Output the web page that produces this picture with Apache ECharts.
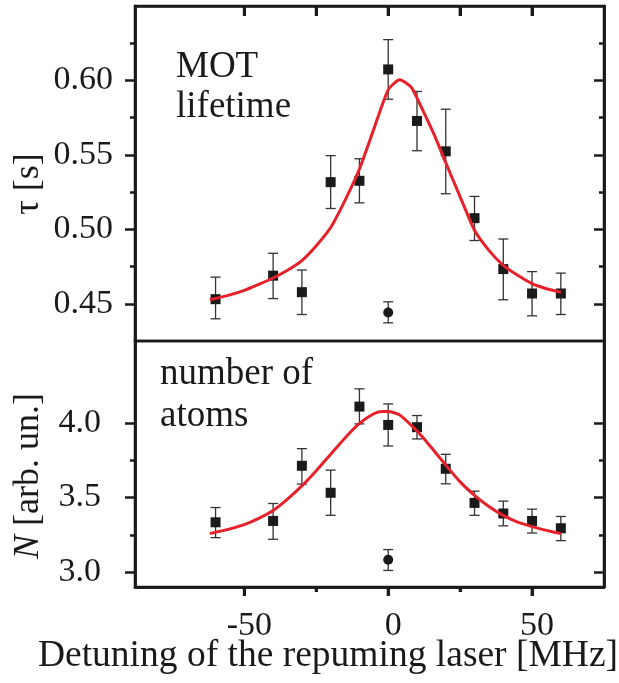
<!DOCTYPE html>
<html>
<head>
<meta charset="utf-8">
<script src="https://cdn.jsdelivr.net/npm/echarts@6/dist/echarts.min.js"></script>
<style>
html,body{margin:0;padding:0;background:#fff;}
#chart{width:619px;height:683px;}
</style>
</head>
<body>
<div id="chart"></div>
<script>
// ---- data ----
const detuning = [-60, -40, -30, -20, -10, 0, 10, 20, 30, 40, 50, 60];

const tau      = [0.4531, 0.4689, 0.4578, 0.5317, 0.5326, 0.6074, 0.5728, 0.5524, 0.5075, 0.4733, 0.4569, 0.4569];
const tauLow   = [0.4399, 0.4535, 0.4428, 0.5140, 0.5178, 0.5874, 0.5528, 0.5239, 0.4925, 0.4527, 0.4419, 0.4428];
const tauHigh  = [0.4679, 0.4839, 0.4727, 0.5495, 0.5474, 0.6274, 0.5926, 0.5807, 0.5221, 0.4935, 0.4716, 0.4706];

const tauRefX = [0];
const tauRef = [0.4441];
const tauRefLow = [0.4372];
const tauRefHigh = [0.4513];

const tauFitX = [-62, -55, -50, -45, -40, -35, -30, -25, -20, -15, -10, -5, 0, 4, 8, 12, 16, 20, 25, 30, 35, 40, 45, 50, 55, 60];
const tauFit  = [0.4527, 0.4560, 0.4590, 0.4630, 0.4673, 0.4725, 0.4790, 0.4890, 0.5012, 0.5195, 0.5405, 0.5673, 0.5937, 0.6005, 0.5955, 0.5800, 0.5634, 0.5448, 0.5218, 0.4994, 0.4859, 0.4758, 0.4691, 0.4635, 0.4601, 0.4578];

const atoms     = [3.334, 3.343, 3.713, 3.532, 4.110, 3.987, 3.972, 3.693, 3.464, 3.393, 3.343, 3.294];
const atomsLow  = [3.231, 3.220, 3.590, 3.381, 3.994, 3.846, 3.893, 3.592, 3.381, 3.310, 3.262, 3.211];
const atomsHigh = [3.433, 3.460, 3.828, 3.684, 4.229, 4.128, 4.050, 3.790, 3.543, 3.476, 3.422, 3.373];

const atomsRefX = [0];
const atomsRef = [3.083];
const atomsRefLow = [3.011];
const atomsRefHigh = [3.151];

const atomsFitX = [-62, -55, -50, -45, -40, -35, -30, -25, -20, -15, -10, -5, -2, 0, 4, 8, 12, 16, 20, 25, 30, 35, 40, 45, 50, 55, 60];
const atomsFit  = [3.258, 3.290, 3.318, 3.360, 3.413, 3.490, 3.578, 3.680, 3.790, 3.900, 3.997, 4.062, 4.077, 4.077, 4.054, 3.985, 3.905, 3.812, 3.718, 3.605, 3.515, 3.440, 3.380, 3.335, 3.305, 3.280, 3.258];

const xMajorTicks = [-50, 0, 50];
const xMinorTicks = [-25, 25];
const xTopTicks = [-50, -25, 0, 25, 50];
const tauMajorTicks = [0.45, 0.50, 0.55, 0.60];
const tauMinorTicks = [0.475, 0.525, 0.575, 0.625];
const atomsMajorTicks = [3.0, 3.5, 4.0];
const atomsMinorTicks = [3.25, 3.75];

const xRange = [-88, 75];
const tauRange = [0.425, 0.65];
const atomsRange = [2.9, 4.55];

// ---- helpers ----
const FONT = '"Liberation Serif", "Times New Roman", serif';
const INK = '#1a1a1a';
const pairs = (xs, ys) => xs.map((x, i) => [x, ys[i]]);
const triples = (xs, lo, hi) => xs.map((x, i) => [x, lo[i], hi[i]]);

function errRender(params, api) {
  const x = api.value(0), lo = api.value(1), hi = api.value(2);
  const a = api.coord([x, hi]);
  const b = api.coord([x, lo]);
  const w = 5;
  const st = { stroke: '#333', lineWidth: 1.3 };
  return {
    type: 'group',
    children: [
      { type: 'line', shape: { x1: a[0], y1: a[1], x2: b[0], y2: b[1] }, style: st },
      { type: 'line', shape: { x1: a[0] - w, y1: a[1], x2: a[0] + w, y2: a[1] }, style: st },
      { type: 'line', shape: { x1: b[0] - w, y1: b[1], x2: b[0] + w, y2: b[1] }, style: st }
    ]
  };
}

// x-axis tick marks drawn through the axis scale (value -> pixel via api.coord)
function xTickSeries(xIdx, yIdx, ticks, yEdge, len) {
  return {
    type: 'custom', xAxisIndex: xIdx, yAxisIndex: yIdx, clip: false, silent: true, z: 5,
    encode: { x: 0, y: 1 },
    data: ticks.map(v => [v, yEdge]),
    renderItem: (params, api) => {
      const p = api.coord([api.value(0), api.value(1)]);
      return { type: 'line', shape: { x1: p[0], y1: p[1], x2: p[0], y2: p[1] + len },
               style: { stroke: INK, lineWidth: 3 } };
    }
  };
}

function xAxisDef(grid, pos, ticks, len, inside, labels) {
  return {
    type: 'value', gridIndex: grid, position: pos, min: xRange[0], max: xRange[1],
    axisLine: { show: true, onZero: false, lineStyle: { color: INK, width: 2.5 } },
    splitLine: { show: false },
    axisTick: { show: true, inside: inside, length: len, customValues: ticks,
                lineStyle: { color: INK, width: 3 } },
    axisLabel: labels ? { show: true, customValues: labels, margin: 22,
                fontFamily: FONT, fontSize: 34, color: INK, padding: [0, 0, 0, 10],
                formatter: v => String(v) }
              : { show: false }
  };
}
function yAxisDef(grid, pos, range, ticks, len, inside, labels, digits, margin) {
  return {
    type: 'value', gridIndex: grid, position: pos, min: range[0], max: range[1],
    axisLine: { show: true, onZero: false, lineStyle: { color: INK, width: 2.5 } },
    splitLine: { show: false },
    axisTick: { show: true, inside: inside, length: len, customValues: ticks,
                lineStyle: { color: INK, width: 2.5 } },
    axisLabel: labels ? { show: true, customValues: labels, margin: margin,
                fontFamily: FONT, fontSize: 34, color: INK, formatter: v => v.toFixed(digits) }
              : { show: false }
  };
}

const chart = echarts.init(document.getElementById('chart'));

const option = {
  animation: false,
  backgroundColor: '#fff',
  grid: [
    { left: 135, right: 15, top: 6, height: 335, outerBoundsMode: 'none',
      show: true, borderColor: INK, borderWidth: 2.5 },
    { left: 135, right: 15, top: 341, bottom: 96, outerBoundsMode: 'none',
      show: true, borderColor: INK, borderWidth: 2.5 }
  ],
  xAxis: [
    xAxisDef(0, 'top', xTopTicks, 10, true, null),
    xAxisDef(1, 'bottom', xMajorTicks, 9, false, xMajorTicks),
    xAxisDef(1, 'bottom', xMinorTicks, 5, false, null)
  ],
  yAxis: [
    yAxisDef(0, 'left', tauRange, tauMajorTicks, 10, false, tauMajorTicks, 2, 22),
    yAxisDef(0, 'left', tauRange, tauMinorTicks, 5, false, null),
    yAxisDef(0, 'right', tauRange, tauMajorTicks, 10, true, null),
    yAxisDef(0, 'right', tauRange, tauMinorTicks, 5, true, null),
    yAxisDef(1, 'left', atomsRange, atomsMajorTicks, 10, false, atomsMajorTicks, 1, 34),
    yAxisDef(1, 'left', atomsRange, atomsMinorTicks, 5, false, null),
    yAxisDef(1, 'right', atomsRange, atomsMajorTicks, 10, true, null),
    yAxisDef(1, 'right', atomsRange, atomsMinorTicks, 5, true, null)
  ],
  series: [
    { type: 'custom', xAxisIndex: 0, yAxisIndex: 0, renderItem: errRender,
      encode: { x: 0, y: [1, 2] }, data: triples(detuning, tauLow, tauHigh) },
    { type: 'custom', xAxisIndex: 0, yAxisIndex: 0, renderItem: errRender,
      encode: { x: 0, y: [1, 2] }, data: triples(tauRefX, tauRefLow, tauRefHigh) },
    { type: 'scatter', xAxisIndex: 0, yAxisIndex: 0, symbol: 'rect', symbolSize: 10,
      itemStyle: { color: INK, opacity: 1 }, data: pairs(detuning, tau) },
    { type: 'scatter', xAxisIndex: 0, yAxisIndex: 0, symbol: 'circle', symbolSize: 10,
      itemStyle: { color: INK, opacity: 1 }, data: pairs(tauRefX, tauRef) },
    { type: 'line', xAxisIndex: 0, yAxisIndex: 0, showSymbol: false, smooth: 0.2,
      lineStyle: { color: '#e8202a', width: 3 }, data: pairs(tauFitX, tauFit) },

    { type: 'custom', xAxisIndex: 1, yAxisIndex: 4, renderItem: errRender,
      encode: { x: 0, y: [1, 2] }, data: triples(detuning, atomsLow, atomsHigh) },
    { type: 'custom', xAxisIndex: 1, yAxisIndex: 4, renderItem: errRender,
      encode: { x: 0, y: [1, 2] }, data: triples(atomsRefX, atomsRefLow, atomsRefHigh) },
    { type: 'scatter', xAxisIndex: 1, yAxisIndex: 4, symbol: 'rect', symbolSize: 10,
      itemStyle: { color: INK, opacity: 1 }, data: pairs(detuning, atoms) },
    { type: 'scatter', xAxisIndex: 1, yAxisIndex: 4, symbol: 'circle', symbolSize: 10,
      itemStyle: { color: INK, opacity: 1 }, data: pairs(atomsRefX, atomsRef) },
    { type: 'line', xAxisIndex: 1, yAxisIndex: 4, showSymbol: false, smooth: 0.2,
      lineStyle: { color: '#e8202a', width: 3 }, data: pairs(atomsFitX, atomsFit) },

    xTickSeries(0, 0, xTopTicks, tauRange[1], 10),
    xTickSeries(1, 4, xMajorTicks, atomsRange[0], 9),
    xTickSeries(1, 4, xMinorTicks, atomsRange[0], 5)
  ],
  graphic: [
    { type: 'text', x: 176, y: 47, z: 10,
      style: { text: 'MOT\nlifetime', font: '37px ' + FONT, lineHeight: 40, fill: INK, align: 'left', verticalAlign: 'top' } },
    { type: 'text', x: 160, y: 353, z: 10,
      style: { text: 'number of\natoms', font: '37px ' + FONT, lineHeight: 42, fill: INK, align: 'left', verticalAlign: 'top' } },
    { type: 'text', x: 29, y: 184, rotation: Math.PI / 2, z: 10,
      style: { text: 'τ [s]', font: '36px ' + FONT, fill: INK, align: 'center', verticalAlign: 'middle' } },
    { type: 'text', x: 29, y: 476, rotation: Math.PI / 2, z: 10,
      style: { text: '{i|N} [arb. un.]', font: '36px ' + FONT, fill: INK, align: 'center', verticalAlign: 'middle',
               rich: { i: { fontFamily: FONT, fontSize: 36, fontStyle: 'italic', fill: INK } } } },
    { type: 'text', x: 328, y: 656, z: 10,
      style: { text: 'Detuning of the repuming laser [MHz]', font: '37.5px ' + FONT, fill: INK, align: 'center', verticalAlign: 'middle' } }
  ]
};

chart.setOption(option);
</script>
</body>
</html>
